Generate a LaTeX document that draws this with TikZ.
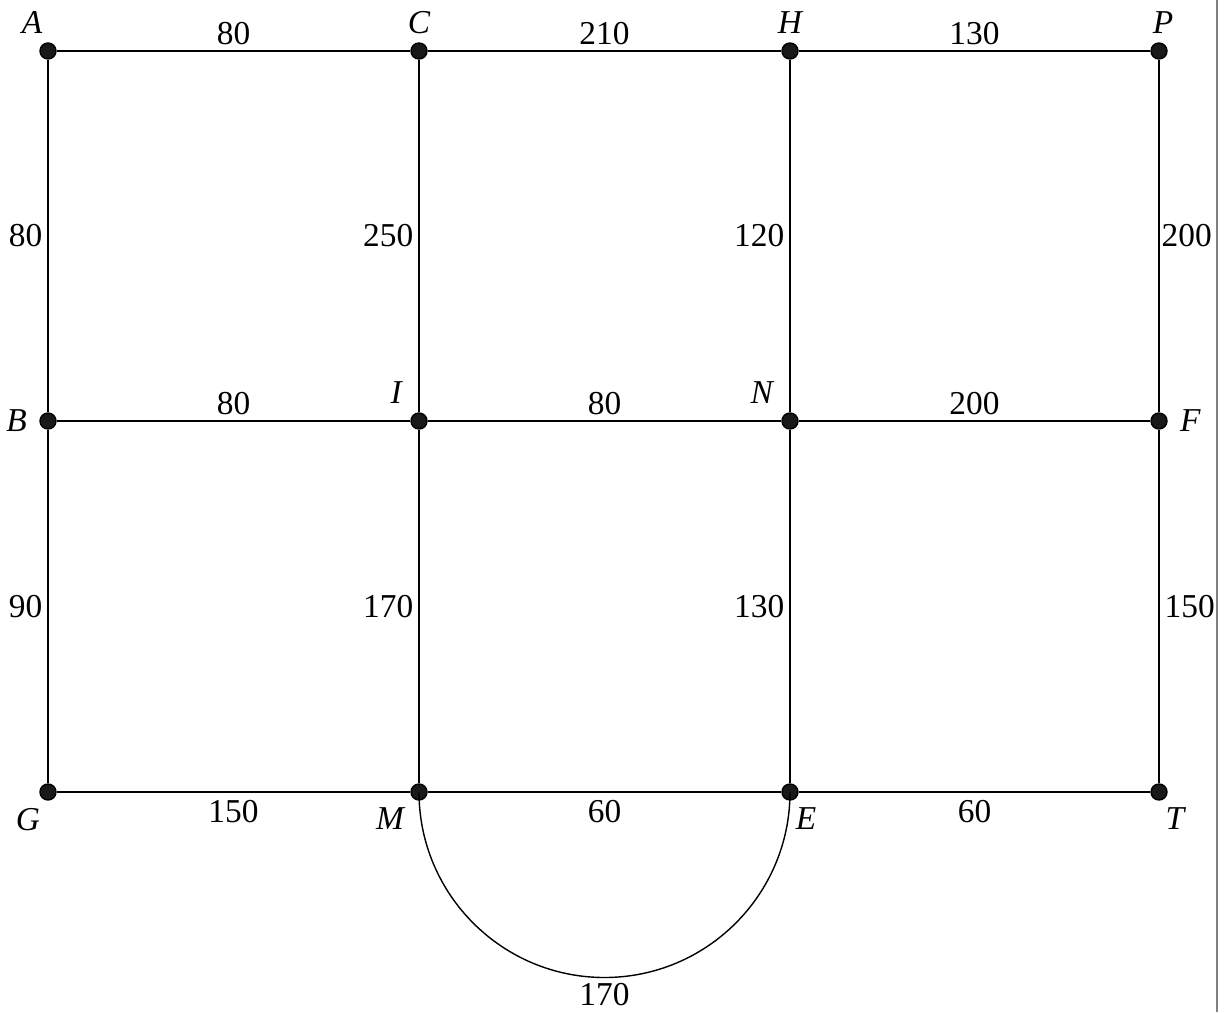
\documentclass[tikz,border=0pt]{standalone}
\usepackage{fontspec}
\setmainfont{Liberation Serif}
\usetikzlibrary{positioning}
\usetikzlibrary{calc}

\begin{document}
\begin{tikzpicture}[every node/.style={font=\fontsize{9.5}{11}\selectfont}, vert/.style={circle, draw, fill=black!90, inner sep=0pt, minimum size=0.16cm, label distance=0.02cm}, tight/.style={inner sep=0.05cm}]
        \useasboundingbox (0,0) rectangle (12.24,10.12);
        % Column and row positions
        \def\xa{0.48} \def\xb{4.19} \def\xc{7.90} \def\xd{11.59}
        \def\ya{9.61} \def\yb{5.91} \def\yc{2.20}

        % Draw the vertices
        \node[vert, label={[label distance=-0.04cm, xshift=-0.16cm]above:{\itshape A}}] (A) at (\xa,\ya) {};
        \node[vert, label={[label distance=-0.04cm]above:{\itshape C}}] (C) at (\xb,\ya) {};
        \node[vert, label={[label distance=-0.04cm]above:{\itshape H}}] (H) at (\xc,\ya) {};
        \node[vert, label={[label distance=-0.04cm, xshift=0.04cm]above:{\itshape P}}] (P) at (\xd,\ya) {};
        \node[vert, label=left:{\itshape B}] (B) at (\xa,\yb) {};
        \node[vert, label={[label distance=-0.02cm]above left:{\itshape I}}] (I) at (\xb,\yb) {};
        \node[vert, label={[label distance=-0.02cm]above left:{\itshape N}}] (N) at (\xc,\yb) {};
        \node[vert, label=right:{\itshape F}] (F) at (\xd,\yb) {};
        \node[vert, label={[label distance=-0.05cm, xshift=-0.20cm]below:{\itshape G}}] (G) at (\xa,\yc) {};
        \node[vert, label={[label distance=-0.05cm, xshift=-0.29cm]below:{\itshape M}}] (M) at (\xb,\yc) {};
        \node[vert, label={[label distance=-0.05cm, xshift=0.16cm]below:{\itshape E}}] (E) at (\xc,\yc) {};
        \node[vert, label={[label distance=-0.05cm, xshift=0.16cm]below:{\itshape T}}] (T) at (\xd,\yc) {};

        % Horizontal edges
        \draw (A) -- (C) node[tight, midway, above] {80};
        \draw (C) -- (H) node[tight, midway, above] {210};
        \draw (H) -- (P) node[tight, midway, above] {130};
        \draw (B) -- (I) node[tight, midway, above] {80};
        \draw (I) -- (N) node[tight, midway, above] {80};
        \draw (N) -- (F) node[tight, midway, above] {200};
        \draw (G) -- (M) node[tight, midway, below, yshift=-0.03cm] {150};
        \draw (M) -- (E) node[tight, midway, below, yshift=-0.03cm] {60};
        \draw (E) -- (T) node[tight, midway, below, yshift=-0.03cm] {60};

        % Vertical edges
        \draw (A) -- (B) node[tight, midway, left] {80};
        \draw (C) -- (I) node[tight, midway, left] {250};
        \draw (H) -- (N) node[tight, midway, left] {120};
        \draw (P) -- (F) node[tight, midway, right, inner sep=0.02cm] {200};
        \draw (B) -- (G) node[tight, midway, left] {90};
        \draw (I) -- (M) node[tight, midway, left] {170};
        \draw (N) -- (E) node[tight, midway, left] {130};
        \draw (F) -- (T) node[tight, midway, right] {150};

        % Half circle below M and E
        \draw (M) arc[start angle=180, end angle=360, radius={(\xc-\xb)/2}] node[pos=0.5, below, tight] {170};

        % Right border
        \draw[gray, line width=0.6pt] (12.17,0) -- (12.17,10.12);
      \end{tikzpicture}
\end{document}
